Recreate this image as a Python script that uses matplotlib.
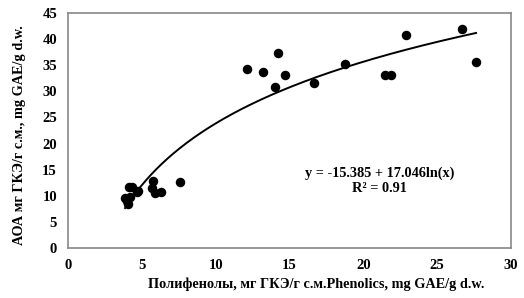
import numpy as np
import matplotlib
matplotlib.use("Agg")
import matplotlib.pyplot as plt

# ------------------------------------
# Data
# ------------------------------------

phenolics = [3.86, 4.02, 4.05, 4.2, 4.13, 4.31, 4.65, 4.76, 5.67, 5.78, 5.89, 6.27, 7.58,
             12.14, 13.18, 14.02, 14.24, 14.67, 16.66, 18.78, 21.48, 21.9, 22.86, 26.7, 27.64]
aoa = [9.5, 8.9, 8.5, 9.8, 11.7, 11.7, 10.8, 11.0, 11.4, 12.9, 10.5, 10.8, 12.7,
       34.2, 33.8, 30.9, 37.3, 33.2, 31.6, 35.2, 33.1, 33.1, 40.9, 41.9, 35.7]

fit_a = -15.385
fit_b = 17.046

x_ticks = [0, 5, 10, 15, 20, 25, 30]
y_ticks = [0, 5, 10, 15, 20, 25, 30, 35, 40, 45]

plt.rcParams["font.family"] = ["Liberation Serif", "DejaVu Serif"]
plt.rcParams["font.weight"] = "bold"

fig = plt.figure(figsize=(5.24, 2.98), dpi=100)
ax = fig.add_axes([0.130, 0.168, 0.845, 0.788])

ax.scatter(phenolics, aoa, s=34, color="black", zorder=3)

xs = np.linspace(min(phenolics), max(phenolics), 200)
ax.plot(xs, fit_a + fit_b * np.log(xs), color="black", linewidth=1.4)

ax.text(21.1, 14.4, "y = -15.385 + 17.046ln(x)", ha="center", va="center",
        fontsize=10.3, fontweight="bold")
ax.text(21.1, 11.3, "R² = 0.91", ha="center", va="center",
        fontsize=10.3, fontweight="bold")

ax.set_xlim(0, 30)
ax.set_ylim(0, 45)
ax.set_xticks(x_ticks)
ax.set_yticks(y_ticks)
ax.tick_params(length=0, labelsize=10.5, pad=8)

for s in ax.spines.values():
    s.set_color("#888888")
    s.set_linewidth(1.2)

ax.set_xlabel("Полифенолы, мг ГКЭ/г с.м.Phenolics, mg GAE/g d.w.",
              fontsize=10.3, fontweight="bold")
ax.set_ylabel("АОА мг ГКЭ/г с.м., mg GAE/g d.w.",
              fontsize=10.3, fontweight="bold")
ax.xaxis.set_label_coords(0.56, -0.125)
ax.yaxis.set_label_coords(-0.095, 0.48)

plt.savefig("out.png", dpi=100)
